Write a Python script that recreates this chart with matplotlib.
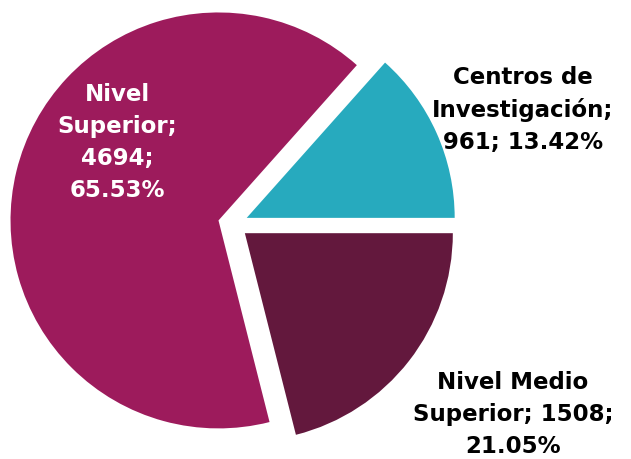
import matplotlib.pyplot as plt

categories = ['Centros de\nInvestigación', 'Nivel\nSuperior', 'Nivel Medio\nSuperior']
counts = [961, 4694, 1508]
percents = [13.42, 65.53, 21.05]
colors = ['#27AABE', '#9D1B5C', '#63183D']

fig = plt.figure(figsize=(6.31, 4.59), dpi=100)
ax = fig.add_axes([0, 0, 1, 1])

ax.pie(counts, colors=colors, startangle=0, counterclock=True,
       explode=[0.072] * 3, radius=1.0)
ax.set_xlim(-1.120, 1.913)
ax.set_ylim(-1.130, 1.077)
ax.set_aspect('equal')
ax.axis('off')

font = dict(family='DejaVu Sans', fontweight='bold', fontsize=16.5,
            ha='center', va='center', linespacing=1.5)

# Centros de Investigación (right, top)
ax.text(1.394, 0.548, f'Centros de\nInvestigación;\n{counts[0]}; {percents[0]:.2f}%',
        color='black', **font)
# Nivel Superior (inside big slice)
ax.text(-0.558, 0.394, f'Nivel\nSuperior;\n{counts[1]};\n{percents[1]:.2f}%',
        color='white', **font)
# Nivel Medio Superior (bottom right)
ax.text(1.346, -0.918, f'Nivel Medio\nSuperior; {counts[2]};\n{percents[2]:.2f}%',
        color='black', **font)

plt.savefig('out.png', dpi=100)
plt.close(fig)
